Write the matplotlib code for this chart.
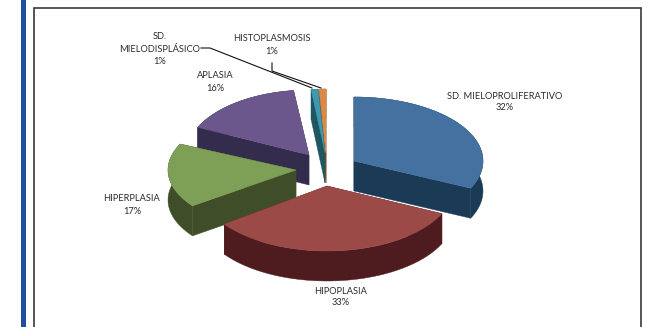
import matplotlib
matplotlib.use("Agg")
import matplotlib.pyplot as plt
import numpy as np
from matplotlib.patches import Polygon

# values, in the order the slices run clockwise from 12 o'clock
categories = ["SD. MIELOPROLIFERATIVO", "HIPOPLASIA", "HIPERPLASIA", "APLASIA",
              "SD.\nMIELODISPLÁSICO", "HISTOPLASMOSIS"]
values = [32, 33, 17, 16, 1, 1]

top_colors = ["#44719f", "#9c4a48", "#7d9f56", "#6b578b", "#3f98ae", "#d98a4a"]
side_colors = ["#1b3a55", "#4e1c1f", "#3f4e28", "#342c4c", "#1e5662", "#8e4f1a"]

# exploded layout in image pixels: apex x, apex y, radius x, radius y
layout = [(354, 161, 129, 64), (327, 186, 127, 65), (296, 170, 128, 61),
          (309, 155, 123, 65), (325, 153, 111, 64), (326, 153, 111, 64)]
depth = 30
draw_order = [3, 5, 4, 2, 0, 1]

# label centres and line spacing
label_pos = [(505, 102), (341, 297), (132, 205), (215, 82), (160, 49), (272, 45)]
label_space = [1.4, 1.3, 1.55, 1.55, 1.55, 1.55]

plt.rcParams["font.family"] = ["Lato", "DejaVu Sans"]

fig = plt.figure(figsize=(6.52, 3.27), dpi=100)
ax = fig.add_axes([0, 0, 1, 1])
ax.set_xlim(0, 652)
ax.set_ylim(327, 0)
ax.axis("off")

# page bar and chart frame
ax.fill_between([20.5, 25.5], 0, 327, color="#1f4e9e", lw=0)
ax.plot([34, 34, 641, 641], [330, 7.5, 7.5, 330], color="#3a3a3a", lw=1.2,
        solid_joinstyle="miter")

edges = np.cumsum([0] + values) / sum(values) * 2 * np.pi

for z, i in enumerate(draw_order):
    cx, cy, rx, ry = layout[i]
    t = np.linspace(edges[i], edges[i + 1], 80)
    ax_x = cx + rx * np.sin(t)
    ax_y = cy - ry * np.cos(t)

    # outer rim as one piece, then the two cut faces
    rim = np.c_[np.r_[ax_x, ax_x[::-1]], np.r_[ax_y, ax_y[::-1] + depth]]
    cut_a = [(cx, cy), (ax_x[0], ax_y[0]), (ax_x[0], ax_y[0] + depth), (cx, cy + depth)]
    cut_b = [(cx, cy), (ax_x[-1], ax_y[-1]), (ax_x[-1], ax_y[-1] + depth), (cx, cy + depth)]
    for face in (rim, cut_a, cut_b):
        ax.add_patch(Polygon(face, closed=True, fc=side_colors[i], ec=side_colors[i],
                             lw=0.3, zorder=2 + z))

    ax.add_patch(Polygon(np.c_[np.r_[cx, ax_x], np.r_[cy, ax_y]], closed=True,
                         fc=top_colors[i], ec=top_colors[i], lw=0.3, zorder=2 + z))

# leader lines
ax.plot([201, 210, 312], [48, 48, 88], color="#111111", lw=0.8, zorder=20)
ax.plot([272, 272, 321], [63, 71, 88], color="#111111", lw=0.8, zorder=20)

for i in range(len(categories)):
    ax.text(label_pos[i][0], label_pos[i][1],
            "{0}\n{1}%".format(categories[i], values[i]),
            ha="center", va="center", ma="center", fontsize=6.7,
            color="#2b2b2b", linespacing=label_space[i], zorder=21)

fig.savefig("out.png", dpi=100)
